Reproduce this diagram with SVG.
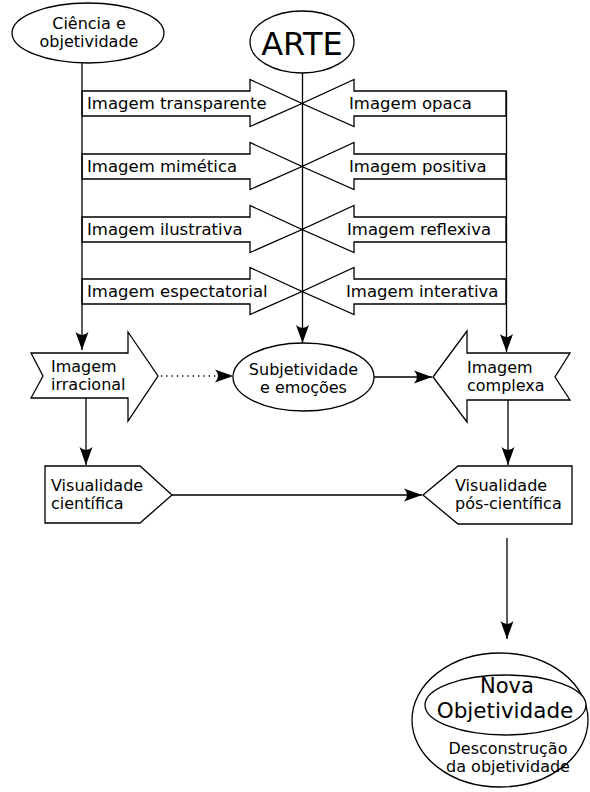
<svg xmlns="http://www.w3.org/2000/svg" width="590" height="792" viewBox="0 0 590 792">
<style>
.s{fill:#fff;stroke:#000;stroke-width:1.3;stroke-linejoin:miter}
.t{font-family:"DejaVu Sans",sans-serif;font-size:16.5px;fill:#000}
.m{font-size:16px}
.c{text-anchor:middle}
.l{fill:none;stroke:#000;stroke-width:1.3}
</style>
<defs>
<marker id="ah" markerUnits="userSpaceOnUse" markerWidth="24" markerHeight="16" viewBox="-20 -8 22 16" refX="0" refY="0" orient="auto">
<path d="M0,0 L-18,-6.5 Q-12,0 -18,6.5 Z" fill="#000"/>
</marker>
</defs>
<rect width="590" height="792" fill="#fff"/>

<g id="ciencia">
<ellipse class="s" cx="88" cy="33" rx="76" ry="30"/>
<text class="t m c" x="89" y="28.5">Ciência e</text>
<text class="t m c" x="89" y="46.5">objetividade</text>
</g>
<g id="arte">
<ellipse class="s" cx="302" cy="42" rx="52" ry="31"/>
<text class="t c" x="302" y="55" style="font-size:32px">ARTE</text>
</g>

<g id="transparente">
<polygon class="s" points="82,91 250,91 250,79.5 302,103.5 250,126.5 250,116 82,116"/>
<text class="t" x="87" y="108.5">Imagem transparente</text>
</g>
<g id="opaca">
<polygon class="s" points="506,91 354,91 354,79.5 302,103.5 354,126.5 354,116 506,116"/>
<text class="t" x="349" y="108.5">Imagem opaca</text>
</g>
<g id="mimetica">
<polygon class="s" points="82,154 250,154 250,142.5 302,166.5 250,189.5 250,179 82,179"/>
<text class="t" x="87" y="171.5">Imagem mimética</text>
</g>
<g id="positiva">
<polygon class="s" points="506,154 354,154 354,142.5 302,166.5 354,189.5 354,179 506,179"/>
<text class="t" x="349" y="171.5">Imagem positiva</text>
</g>
<g id="ilustrativa">
<polygon class="s" points="82,217 250,217 250,205.5 302,229.5 250,252.5 250,242 82,242"/>
<text class="t" x="87" y="234.5">Imagem ilustrativa</text>
</g>
<g id="reflexiva">
<polygon class="s" points="506,217 354,217 354,205.5 302,229.5 354,252.5 354,242 506,242"/>
<text class="t" x="347" y="234.5">Imagem reflexiva</text>
</g>
<g id="espectatorial">
<polygon class="s" points="82,279 250,279 250,267.5 302,291.5 250,314.5 250,304 82,304"/>
<text class="t" x="87" y="296.5">Imagem espectatorial</text>
</g>
<g id="interativa">
<polygon class="s" points="506,279 354,279 354,267.5 302,291.5 354,314.5 354,304 506,304"/>
<text class="t" x="346" y="296.5">Imagem interativa</text>
</g>

<g id="irracional">
<polygon class="s" points="31,353 128,353 128,332 158,376 128,421 128,398 31,398 43,376"/>
<text class="t m" x="51" y="371.5">Imagem</text>
<text class="t m" x="51" y="389.5">irracional</text>
</g>
<g id="subjetividade">
<ellipse class="s" cx="303.5" cy="377" rx="70.5" ry="34"/>
<text class="t m c" x="303.5" y="374.5">Subjetividade</text>
<text class="t m c" x="303.5" y="392.5">e emoções</text>
</g>
<g id="complexa">
<polygon class="s" points="433,377 467,331 467,353 570,353 555,377 570,400 467,400 467,422"/>
<text class="t m" x="467" y="372.5">Imagem</text>
<text class="t m" x="467" y="390.5">complexa</text>
</g>
<g id="cientifica">
<polygon class="s" points="45,466 140,466 172,495 140,523 45,523"/>
<text class="t m" x="51" y="490.5">Visualidade</text>
<text class="t m" x="51" y="508.5">científica</text>
</g>
<g id="poscientifica">
<polygon class="s" points="423,495 458,466 572,466 572,524 458,524"/>
<text class="t m" x="455" y="490.5">Visualidade</text>
<text class="t m" x="455" y="508.5">pós-científica</text>
</g>
<g id="nova">
<ellipse class="s" cx="500" cy="720" rx="88" ry="67"/>
<ellipse class="s" cx="505.5" cy="705" rx="80.5" ry="30"/>
<text class="t c" x="507" y="693" style="font-size:21px">Nova</text>
<text class="t c" x="505" y="718" style="font-size:21.5px">Objetividade</text>
<text class="t c" x="508" y="753.5" style="font-size:16px">Desconstrução</text>
<text class="t c" x="508" y="771.5" style="font-size:16px">da objetividade</text>
</g>

<g id="connectors">
<line class="l" x1="82" y1="63" x2="82" y2="350" marker-end="url(#ah)"/>
<line class="l" x1="302.5" y1="73" x2="302.5" y2="343" marker-end="url(#ah)"/>
<line class="l" x1="506.5" y1="91" x2="506.5" y2="352" marker-end="url(#ah)"/>
<line class="l" x1="161" y1="376" x2="233" y2="376" stroke-dasharray="1.3 4" marker-end="url(#ah)"/>
<line class="l" x1="374" y1="377" x2="432" y2="377" marker-end="url(#ah)"/>
<line class="l" x1="86" y1="398" x2="86" y2="465" marker-end="url(#ah)"/>
<line class="l" x1="508" y1="400" x2="508" y2="465" marker-end="url(#ah)"/>
<line class="l" x1="172" y1="495" x2="422" y2="495" marker-end="url(#ah)"/>
<line class="l" x1="507" y1="538" x2="507" y2="639" marker-end="url(#ah)"/>
</g>
</svg>
